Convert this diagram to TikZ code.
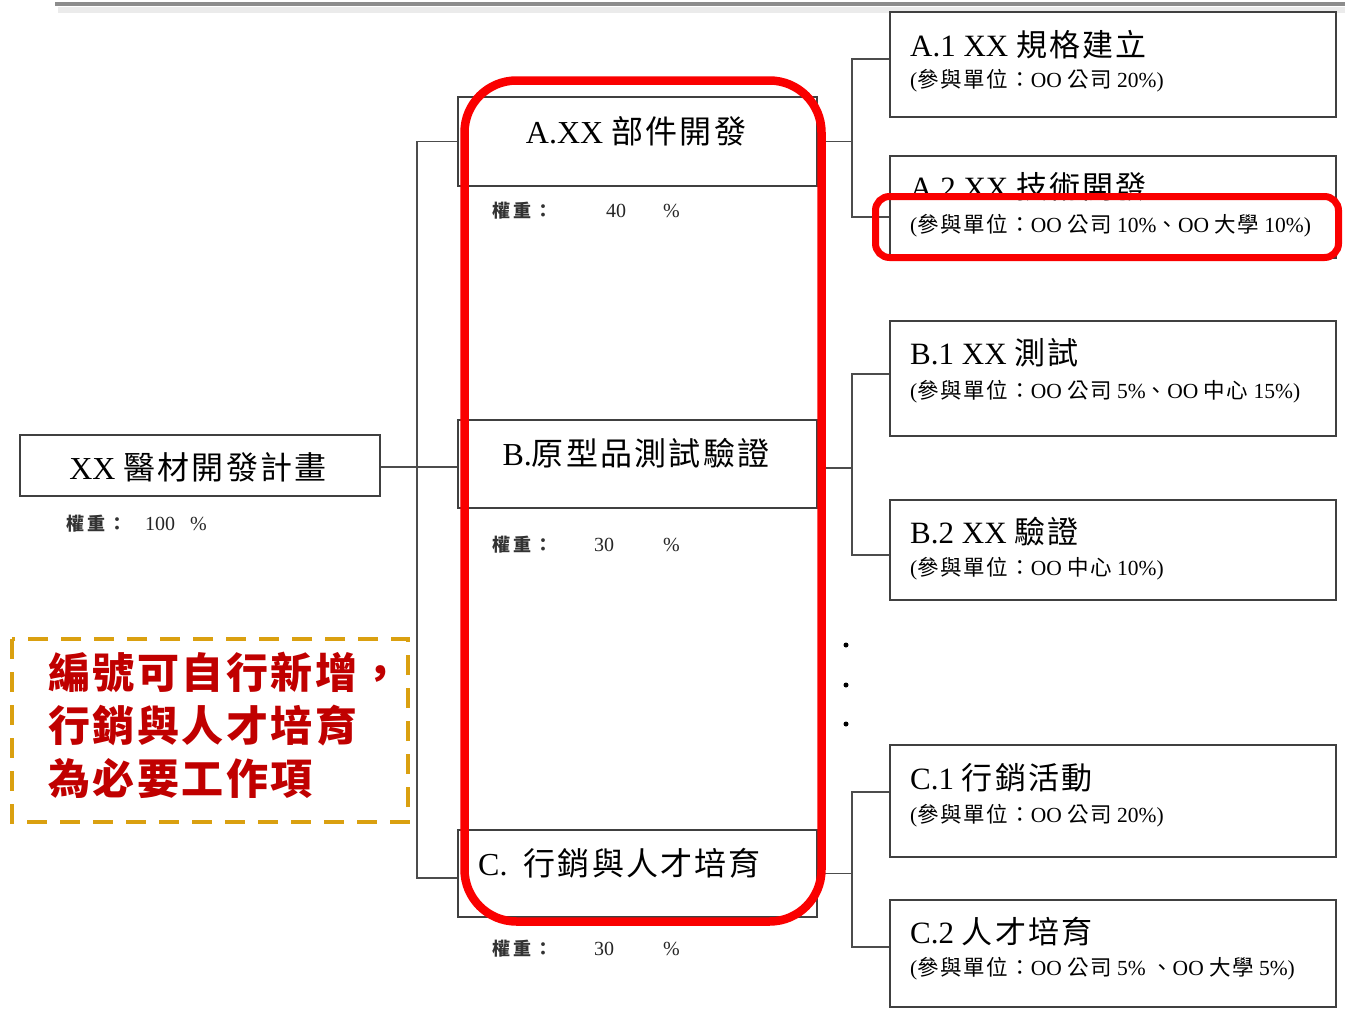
\documentclass[tikz,border=0pt]{standalone}
\usepackage{fontspec}
\setmainfont{Liberation Serif}
\newfontfamily\cjk{Noto Sans CJK TC}[LetterSpace=7]
\newfontfamily\cjknote{Noto Sans CJK TC}[LetterSpace=6]
\newfontfamily\cjkwt{Noto Sans CJK TC}[LetterSpace=18]
\newcommand{\zh}[1]{{\cjk #1}}
\definecolor{noteRed}{RGB}{192,0,0}
\definecolor{gold}{RGB}{218,160,16}
\definecolor{hlRed}{RGB}{250,0,0}
\begin{document}
\begin{tikzpicture}[x=1pt,y=-1pt,
  box/.style={draw=black!75, line width=1.6pt, fill=white, inner sep=0pt},
  conn/.style={draw=black!70, line width=1.4pt},
  ttl/.style={anchor=west, inner sep=0pt, font=\fontsize{31}{31}\selectfont},
  mttl/.style={inner sep=0pt, font=\fontsize{32}{32}\selectfont},
  subt/.style={anchor=west, inner sep=0pt, font=\fontsize{21.5}{21.5}\selectfont},
  wt/.style={anchor=west, inner sep=0pt, font=\fontsize{20}{20}\selectfont, text=black!85},
  wtc/.style={anchor=west, inner sep=0pt, font=\cjkwt\bfseries\fontsize{18}{18}\selectfont, text=black!80},
  redhl/.style={draw=hlRed, line width=8.5pt},
  dotn/.style={circle, fill=black, inner sep=0pt, minimum size=5pt},
  notetxt/.style={anchor=west, inner sep=0pt, text=noteRed, font=\cjknote\bfseries\fontsize{42}{42}\selectfont}
]
\useasboundingbox (0,0) rectangle (1345,1009);
\fill[white] (0,0) rectangle (1345,1009);

% top slide edge
\draw[line width=6pt, black!8] (58,10) -- (1345,10);
\draw[line width=3.5pt, black!45] (55,4) -- (1345,4);

% main boxes
\node[box, minimum width=360pt, minimum height=61pt] (root) at (200,465.5) {};
\node[box, minimum width=359pt, minimum height=89pt] (a) at (637.5,141.5) {};
\node[box, minimum width=359pt, minimum height=88pt] (b) at (637.5,464) {};
\node[box, minimum width=359pt, minimum height=87pt] (c) at (637.5,873.5) {};

% sub boxes
\node[box, minimum width=446pt, minimum height=105pt] (a1) at (1113,64.5) {};
\node[box, minimum width=446pt, minimum height=102pt] (a2) at (1113,207) {};
\node[box, minimum width=446pt, minimum height=115pt] (b1) at (1113,378.5) {};
\node[box, minimum width=446pt, minimum height=100pt] (b2) at (1113,550) {};
\node[box, minimum width=446pt, minimum height=112pt] (c1) at (1113,801) {};
\node[box, minimum width=446pt, minimum height=107pt] (c2) at (1113,953.5) {};

% left tree
\coordinate (trunk) at (417,467);
\draw[conn] (root.east |- trunk) -- (b.west |- trunk);
\draw[conn] (a.west) -| (trunk) |- ([yshift=-4.5pt]c.west);

% right trees
\coordinate (ja) at (852,141.5);
\coordinate (jb) at (852,468);
\coordinate (jc) at (852,873.5);
\draw[conn] (a.east) -- (ja);
\draw[conn] ([yshift=5.5pt]a1.west) -| (ja) |- ([yshift=-10pt]a2.west);
\draw[conn] ([yshift=-4pt]b.east) -- (jb);
\draw[conn] ([yshift=4.5pt]b1.west) -| (jb) |- ([yshift=-5pt]b2.west);
\draw[conn] (c.east) -- (jc);
\draw[conn] ([yshift=9pt]c1.west) -| (jc) |- ([yshift=6.5pt]c2.west);

% main texts
\node[mttl] (roott) at (198,467) {XX \zh{醫材開發計畫}};
\node[wtc] (rw) at (66,524) {權重：};
\node[wt] (rwn) at (145,524) {100};
\node[wt] (rwp) at (190,524) {\%};

\node[mttl] (at) at (636,131) {A.XX \zh{部件開發}};
\node[wtc] (aw) at (492,211) {權重：};
\node[wt] (awn) at (606,211) {40};
\node[wt] (awp) at (663,211) {\%};

\node[mttl] (bt) at (636,453) {B.\zh{原型品測試驗證}};
\node[wtc] (bw) at (492,545) {權重：};
\node[wt] (bwn) at (594,545) {30};
\node[wt] (bwp) at (663,545) {\%};

\node[ttl, font=\fontsize{32}{32}\selectfont] (ct) at (478,863) {C.\hspace{16pt}\zh{行銷與人才培育}};
\node[wtc] (cw) at (492,949) {權重：};
\node[wt] (cwn) at (594,949) {30};
\node[wt] (cwp) at (663,949) {\%};

% sub texts
\node[ttl] (a1t) at (910,45) {A.1 XX \zh{規格建立}};
\node[subt] (a1s) at (910,81) {(\zh{參與單位：}OO \zh{公司} 20\%)};
\node[ttl] (a2t) at (910,187) {A.2 XX \zh{技術開發}};
\node[subt] (a2s) at (910,226) {(\zh{參與單位：}OO \zh{公司} 10\%\zh{、}OO \zh{大學} 10\%)};
\node[ttl] (b1t) at (910,353) {B.1 XX \zh{測試}};
\node[subt] (b1s) at (910,392) {(\zh{參與單位：}OO \zh{公司} 5\%\zh{、}OO \zh{中心} 15\%)};
\node[ttl] (b2t) at (910,532) {B.2 XX \zh{驗證}};
\node[subt] (b2s) at (910,569) {(\zh{參與單位：}OO \zh{中心} 10\%)};
\node[ttl] (c1t) at (910,778) {C.1 \zh{行銷活動}};
\node[subt] (c1s) at (910,816) {(\zh{參與單位：}OO \zh{公司} 20\%)};
\node[ttl] (c2t) at (910,932) {C.2 \zh{人才培育}};
\node[subt] (c2s) at (910,969) {(\zh{參與單位：}OO \zh{公司} 5\% \zh{、}OO \zh{大學} 5\%)};

% dots
\node[dotn] (d1) at (846,645) {};
\node[dotn] (d2) at (846,685) {};
\node[dotn] (d3) at (846,724) {};

% red highlights
\draw[redhl, rounded corners=52pt] (464.5,80.5) rectangle (821.5,921.5);
\draw[redhl, line width=7pt, rounded corners=14pt] (875.5,196.5) rectangle (1338.5,257.5);

% note
\draw[draw=gold, line width=4pt, dash pattern=on 20pt off 13pt] (12,639) rectangle (408,822);
\node[notetxt] (n1) at (48,672) {編號可自行新增，};
\node[notetxt] (n2) at (48,726) {行銷與人才培育};
\node[notetxt] (n3) at (48,779) {為必要工作項};
\end{tikzpicture}
\end{document}
